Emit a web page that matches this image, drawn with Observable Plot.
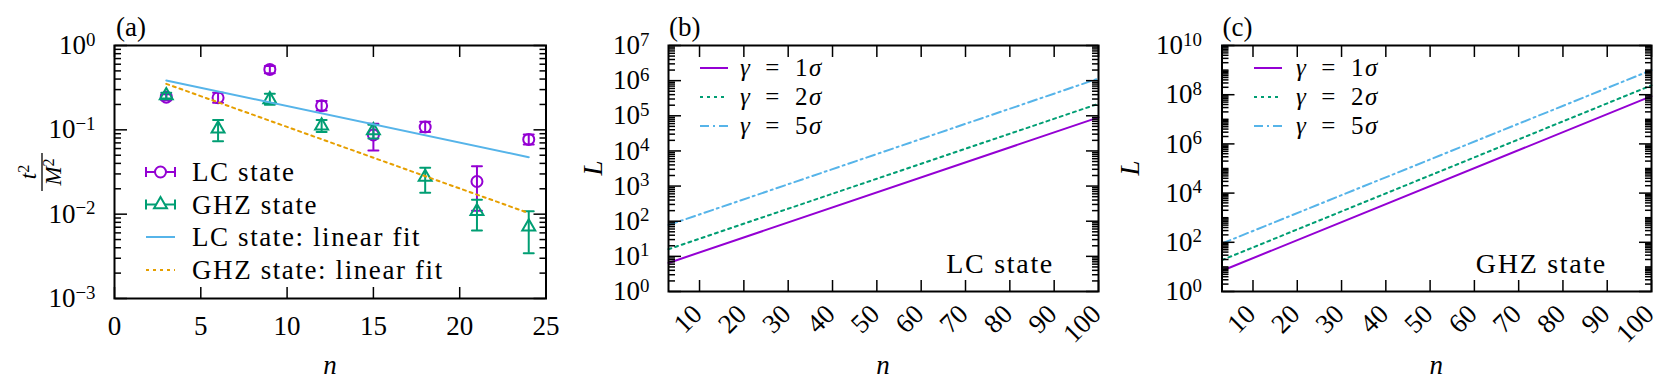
<!DOCTYPE html>
<html><head><meta charset="utf-8">
<script src="https://cdn.jsdelivr.net/npm/d3@7"></script>
<script src="https://cdn.jsdelivr.net/npm/@observablehq/plot@0.6"></script>
<style>
body{margin:0;background:#fff;}
#wrap{position:relative;width:1659px;height:386px;background:#fff;}
#wrap svg{position:absolute;top:0;overflow:visible;background:transparent;}
</style></head><body><div id="wrap"></div>
<script>
// ---------- data ----------
const nA = [3, 6, 9, 12, 15, 18, 21, 24];
const lcVal = [0.244, 0.24, 0.52, 0.193, 0.087, 0.108, 0.0244, 0.077];
const lcLo  = [0.225, 0.21, 0.47, 0.17, 0.057, 0.094, 0.011, 0.067];
const lcHi  = [0.265, 0.275, 0.57, 0.22, 0.118, 0.125, 0.037, 0.088];
const ghzVal = [0.255, 0.103, 0.229, 0.112, 0.098, 0.0275, 0.0108, 0.0071];
const ghzLo  = [0.235, 0.073, 0.198, 0.094, 0.079, 0.0179, 0.0064, 0.00344];
const ghzHi  = [0.275, 0.131, 0.267, 0.131, 0.115, 0.0354, 0.0148, 0.0108];
const fitN = [3, 24];
const lcFit = [0.385, 0.0474];
const ghzFit = [0.351, 0.0103];

const nEnds = [3, 100];
const lcG1 = [6.5, 9.0e4], lcG2 = [16, 2.2e5], lcG5 = [78, 1.15e6];
const ghzG1 = [7, 8.7e7], ghzG2 = [19, 2.4e8], ghzG5 = [90, 1.0e9];
const gammaLabels = ["1", "2", "5"];

const xTicksA = [0, 5, 10, 15, 20, 25];
const yTicksA = [1e-3, 1e-2, 1e-1, 1];
const xTicksBC = [10, 20, 30, 40, 50, 60, 70, 80, 90, 100];
const yTicksB = [1, 1e1, 1e2, 1e3, 1e4, 1e5, 1e6, 1e7];
const yTicksC = [1, 1e2, 1e4, 1e6, 1e8, 1e10];

// ---------- style ----------
const PURPLE = "#9400D3", GREEN = "#009E73", BLUE = "#56B4E9", ORANGE = "#E69F00";
const gammaColors = [PURPLE, GREEN, BLUE];
const gammaDash = [null, "3,4", "9,4,2,4"];
const FONT = "'Liberation Serif','Times New Roman',serif";
const FS = 27;
const W = 553, H = 386;
const wrap = document.getElementById("wrap");

const minorLog = (lo, hi, skip) => {
  const out = [];
  for (let e = lo; e < hi; e++) for (let d = 1; d <= 9; d++) {
    const v = d * Math.pow(10, e);
    if (!skip.some(s => Math.abs(s - v) / v < 1e-9)) out.push(v);
  }
  return out;
};
const fmtPow = d => "10^" + String(Math.round(Math.log10(d))).replace("-", "\u2212");

function tickMarks(xMajor, yMajor, yMinor) {
  const o = {stroke: "black", strokeWidth: 1.5, fill: "none", label: null, tickFormat: () => ""};
  return [
    Plot.axisY(yMajor, {...o, anchor: "right", frameAnchor: "left", tickSize: 12}),
    Plot.axisY(yMajor, {...o, anchor: "left", frameAnchor: "right", tickSize: 12}),
    Plot.axisY(yMinor, {...o, anchor: "right", frameAnchor: "left", tickSize: 6}),
    Plot.axisY(yMinor, {...o, anchor: "left", frameAnchor: "right", tickSize: 6}),
    Plot.axisX(xMajor, {...o, anchor: "top", frameAnchor: "bottom", tickSize: 12}),
    Plot.axisX(xMajor, {...o, anchor: "bottom", frameAnchor: "top", tickSize: 12})
  ];
}

const capShape = {draw(c, l) { c.moveTo(-l / 2, 0); c.lineTo(l / 2, 0); }};

function supify(svg) {
  svg.querySelectorAll("text").forEach(t => {
    const s = t.textContent;
    if (!s.includes("^")) return;
    const [b, e] = s.split("^");
    while (t.firstChild) t.removeChild(t.firstChild);
    const ns = "http://www.w3.org/2000/svg";
    const t1 = document.createElementNS(ns, "tspan"); t1.textContent = b;
    const t2 = document.createElementNS(ns, "tspan"); t2.textContent = e;
    t2.setAttribute("dy", "-0.45em"); t2.setAttribute("font-size", "0.7em");
    t.append(t1, t2);
  });
}

function txt(sel, x, y, parts, {anchor = "start", size = FS, rotate = 0, baseline = null} = {}) {
  const t = sel.append("text").attr("x", x).attr("y", y).attr("text-anchor", anchor)
    .attr("font-size", size).attr("fill", "black").attr("font-family", FONT);
  if (baseline) t.attr("dominant-baseline", baseline);
  if (rotate) t.attr("transform", `rotate(${rotate},${x},${y})`);
  for (const p of parts) {
    const s = t.append("tspan").text(p.t);
    if (p.i) s.attr("font-style", "italic");
    if (p.sup) s.attr("dy", "-0.45em").attr("font-size", "0.7em");
  }
  return t;
}

function place(svg, left) { svg.style.left = left + "px"; wrap.append(svg); }

// ---------- panel (a) ----------
{
  const lc = nA.map((n, i) => ({n, v: lcVal[i], lo: lcLo[i], hi: lcHi[i]}));
  const ghz = nA.map((n, i) => ({n, v: ghzVal[i], lo: ghzLo[i], hi: ghzHi[i]}));
  const fits = fitN.map((n, i) => ({n, lc: lcFit[i], ghz: ghzFit[i]}));
  const yMinor = minorLog(-3, 0, yTicksA);
  const errMarks = (data, color) => [
    Plot.ruleX(data, {x: "n", y1: "lo", y2: "hi", stroke: color, strokeWidth: 2}),
    Plot.vector(data, {x: "n", y: "lo", length: 10, anchor: "start", shape: capShape, stroke: color, strokeWidth: 2}),
    Plot.vector(data, {x: "n", y: "hi", length: 10, anchor: "start", shape: capShape, stroke: color, strokeWidth: 2})
  ];
  const svg = Plot.plot({
    width: W, height: H, marginLeft: 114, marginRight: 7.5, marginTop: 45, marginBottom: 88,
    style: {fontFamily: FONT, fontSize: FS + "px", background: "transparent", overflow: "visible"},
    x: {domain: [0, 25]},
    y: {type: "log", domain: [1e-3, 1]},
    marks: [
      ...errMarks(lc, PURPLE),
      Plot.dot(lc, {x: "n", y: "v", r: 5.5, symbol: "circle", stroke: PURPLE, strokeWidth: 2, fill: "none"}),
      ...errMarks(ghz, GREEN),
      Plot.dot(ghz, {x: "n", y: "v", r: 4.8, symbol: "triangle", stroke: GREEN, strokeWidth: 2, fill: "none"}),
      Plot.line(fits, {x: "n", y: "lc", stroke: BLUE, strokeWidth: 2}),
      Plot.line(fits, {x: "n", y: "ghz", stroke: ORANGE, strokeWidth: 2, strokeDasharray: "3,4"}),
      ...tickMarks(xTicksA, yTicksA, yMinor),
      Plot.axisY(yTicksA, {anchor: "left", tickSize: 0, tickPadding: 19, tickFormat: fmtPow, label: null, fontSize: FS}),
      Plot.axisX(xTicksA, {anchor: "bottom", tickSize: 0, tickPadding: 17, label: null, fontSize: FS}),
      Plot.frame({stroke: "black", strokeWidth: 2})
    ]
  });
  supify(svg);
  const g = d3.select(svg).append("g");
  txt(g, 116, 36, [{t: "(a)"}]);
  txt(g, 330, 374, [{t: "n", i: true}], {anchor: "middle"});
  // y label: t^2 / M^2 fraction, rotated
  const fl = g.append("g").attr("transform", "translate(42,172) rotate(-90)");
  txt(fl, 0, -6, [{t: "t", i: true}, {t: "2", sup: true}], {anchor: "middle", size: 23});
  fl.append("line").attr("x1", -19).attr("x2", 19).attr("y1", 0).attr("y2", 0).attr("stroke", "black").attr("stroke-width", 1.3);
  txt(fl, 0, 19, [{t: "M", i: true}, {t: "2", sup: true}], {anchor: "middle", size: 23});
  // legend
  const rows = [172, 204.5, 237, 270];
  const x0 = 146, x1 = 175, xm = 160.5, xt = 192;
  [[0, PURPLE], [1, GREEN]].forEach(([r, c]) => {
    const y = rows[r];
    g.append("line").attr("x1", x0).attr("x2", x1).attr("y1", y).attr("y2", y).attr("stroke", c).attr("stroke-width", 2);
    g.append("line").attr("x1", x0).attr("x2", x0).attr("y1", y - 5).attr("y2", y + 5).attr("stroke", c).attr("stroke-width", 2);
    g.append("line").attr("x1", x1).attr("x2", x1).attr("y1", y - 5).attr("y2", y + 5).attr("stroke", c).attr("stroke-width", 2);
  });
  g.append("circle").attr("cx", xm).attr("cy", rows[0]).attr("r", 5.5).attr("fill", "white").attr("stroke", PURPLE).attr("stroke-width", 2);
  g.append("path").attr("d", d3.symbol(d3.symbolTriangle, Math.PI * 4.8 * 4.8)()).attr("transform", `translate(${xm},${rows[1]})`)
    .attr("fill", "white").attr("stroke", GREEN).attr("stroke-width", 2);
  g.append("line").attr("x1", x0).attr("x2", x1).attr("y1", rows[2]).attr("y2", rows[2]).attr("stroke", BLUE).attr("stroke-width", 2);
  g.append("line").attr("x1", x0).attr("x2", x1).attr("y1", rows[3]).attr("y2", rows[3]).attr("stroke", ORANGE).attr("stroke-width", 2).attr("stroke-dasharray", "3,4");
  const legTexts = ["LC state", "GHZ state", "LC state: linear fit", "GHZ state: linear fit"];
  legTexts.forEach((s, i) => txt(g, xt, rows[i] + 9, [{t: s}], {size: 27}).attr("letter-spacing", "1.6px"));
  place(svg, 0);
}

// ---------- panels (b) and (c) ----------
function gammaPanel({left, series, yDomain, yTicks, yMinor, tag, state, yLabelX, mLeft, tickPad, legX0, legXt}) {
  const data = [];
  series.forEach((arr, k) => nEnds.forEach((n, i) => data.push({n, L: arr[i], k})));
  const svg = Plot.plot({
    width: W, height: H, marginLeft: mLeft, marginRight: 8, marginTop: 45, marginBottom: 95,
    style: {fontFamily: FONT, fontSize: FS + "px", background: "transparent", overflow: "visible"},
    x: {domain: [3, 100]},
    y: {type: "log", domain: yDomain},
    marks: [
      ...series.map((arr, k) => Plot.line(data.filter(d => d.k === k), {x: "n", y: "L", stroke: gammaColors[k], strokeWidth: 2, strokeDasharray: gammaDash[k]})),
      ...tickMarks(xTicksBC, yTicks, yMinor),
      Plot.axisY(yTicks, {anchor: "left", tickSize: 0, tickPadding: tickPad, tickFormat: fmtPow, label: null, fontSize: FS}),
      Plot.axisX(xTicksBC, {anchor: "bottom", tickSize: 0, tickPadding: 18, tickRotate: -45, textAnchor: "end", lineAnchor: "middle", dx: -2, label: null, fontSize: FS}),
      Plot.frame({stroke: "black", strokeWidth: 2})
    ]
  });
  supify(svg);
  const g = d3.select(svg).append("g");
  txt(g, mLeft + 1, 36, [{t: tag}]);
  const cx = mLeft + (W - 8 - mLeft) / 2;
  txt(g, cx, 374, [{t: "n", i: true}], {anchor: "middle"});
  txt(g, yLabelX, 168, [{t: "L", i: true}], {anchor: "middle", rotate: -90, baseline: "central"});
  txt(g, 501, 273, [{t: state}], {anchor: "end", size: 28}).attr("letter-spacing", "1.7px");
  const rows = [68, 97, 126];
  rows.forEach((y, k) => {
    const ln = g.append("line").attr("x1", legX0).attr("x2", legX0 + 28).attr("y1", y).attr("y2", y)
      .attr("stroke", gammaColors[k]).attr("stroke-width", 2);
    if (gammaDash[k]) ln.attr("stroke-dasharray", gammaDash[k]);
    txt(g, legXt, y + 8, [{t: "\u03B3", i: true}, {t: "\u2002=\u2002" + gammaLabels[k]}, {t: "\u03C3", i: true}], {size: 25})
      .attr("letter-spacing", "1.5px");
  });
  place(svg, left);
}

gammaPanel({left: 553, series: [lcG1, lcG2, lcG5], yDomain: [1, 1e7], yTicks: yTicksB,
  yMinor: minorLog(0, 7, yTicksB), tag: "(b)", state: "LC state", yLabelX: 40, mLeft: 115, tickPad: 19,
  legX0: 147, legXt: 187});
gammaPanel({left: 1106, series: [ghzG1, ghzG2, ghzG5], yDomain: [1, 1e10], yTicks: yTicksC,
  yMinor: minorLog(0, 10, yTicksC), tag: "(c)", state: "GHZ state", yLabelX: 24, mLeft: 115.5, tickPad: 20,
  legX0: 148, legXt: 190});
</script></body></html>
